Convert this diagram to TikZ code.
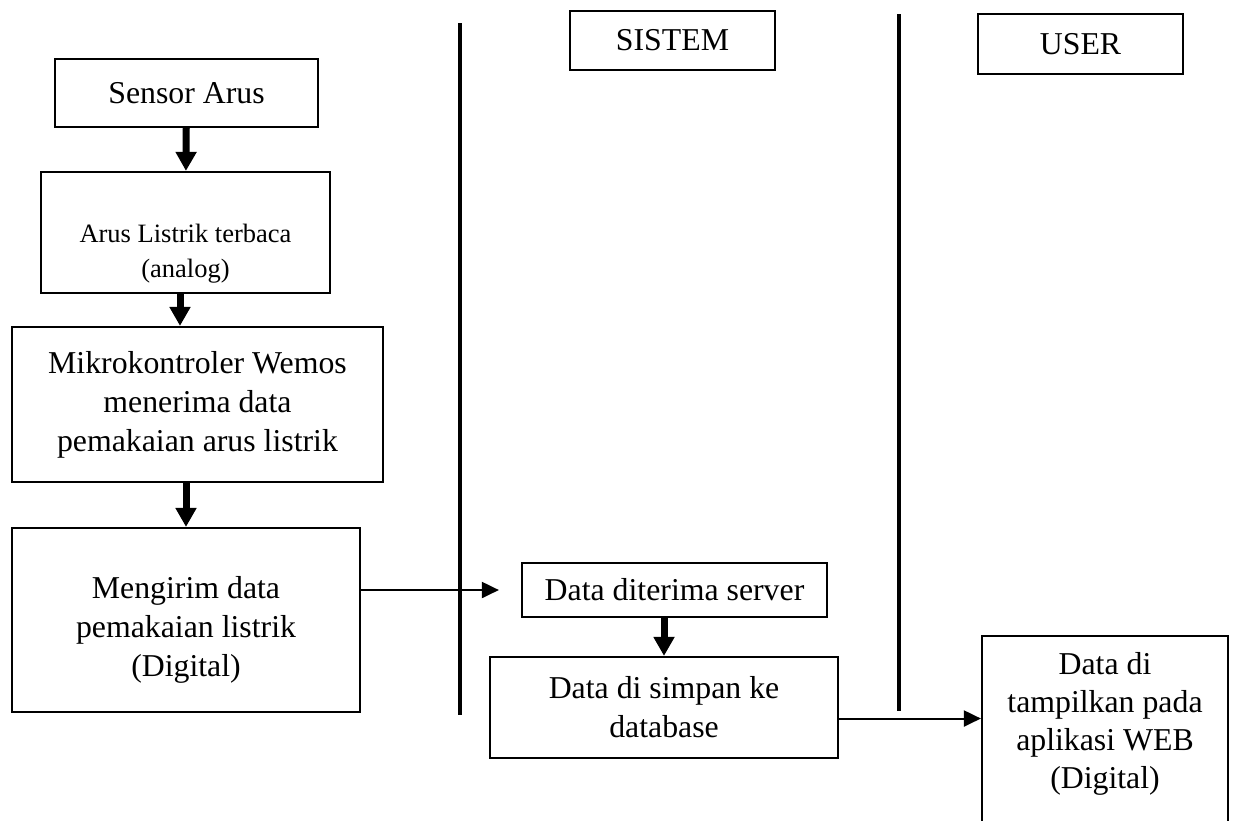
\documentclass[tikz,border=0pt]{standalone}
\usepackage{fontspec}
\setmainfont{Liberation Serif}
\usetikzlibrary{arrows.meta}

\begin{document}
\begin{tikzpicture}[x=0.5pt, y=-0.5pt,
    box/.style={draw, line width=1.1pt, align=center, inner sep=2pt,
                font=\fontsize{15.9}{19.5}\selectfont},
    bigarrow/.style={line width=3.5pt, -{Triangle[length=9.5pt,width=10pt]}},
    thinarrow/.style={line width=1pt, -{Triangle[length=8.5pt,width=8pt]}},
    lane/.style={line width=2pt}]
    % Page
    \clip (0,0) rectangle (1234,820);

    % Lanes
    \draw[lane] (460,23) -- (460,715);
    \draw[lane] (899,14) -- (899,711);
    \node[box, minimum width=102.5pt, minimum height=29.5pt] (sistem) at (672.5,40.5) {SISTEM};
    \node[box, minimum width=102.5pt, minimum height=30pt] (user) at (1080.5,44) {USER};

    % Sensor side
    \node[box, minimum width=144.5pt, minimum height=60.5pt, text height=48pt,
          font=\fontsize{13.25}{17.5}\selectfont] (arus) at (185.5,232.5)
          {Arus Listrik terbaca\\(analog)};
    \node[box, minimum width=131.5pt, minimum height=34pt] (sensor) at (186.5,93) {Sensor Arus};
    \node[box, minimum width=185.5pt, minimum height=77.5pt] (mikro) at (197.5,404.5)
          {Mikrokontroler Wemos\\menerima data\\pemakaian arus listrik};
    \node[box, minimum width=174pt, minimum height=92pt, text height=59.8pt] (kirim) at (186,620)
          {Mengirim data\\pemakaian listrik\\(Digital)};

    % Server side
    \node[box, minimum width=152.5pt, minimum height=27pt] (terima) at (674.5,590) {Data diterima server};
    \node[box, minimum width=174pt, minimum height=50.5pt] (simpan) at (664,707.5)
          {Data di simpan ke\\database};

    % User side
    \node[box, minimum width=123pt, minimum height=94pt, text depth=9.5pt,
          font=\fontsize{15.9}{19}\selectfont] (web) at (1105,730)
          {Data di\\tampilkan pada\\aplikasi WEB\\(Digital)};

    % Arrows
    \draw[bigarrow] (sensor) -- (arus);
    \draw[bigarrow] ([xshift=-2.75pt]arus.south) -- ([xshift=-2.75pt]arus.south |- mikro.north);
    \draw[bigarrow] (kirim.north |- mikro.south) -- (kirim.north);
    \draw[bigarrow] (simpan.north |- terima.south) -- (simpan.north);
    \draw[thinarrow] (kirim.east |- terima.west) -- ([xshift=-11pt]terima.west);
    \draw[thinarrow] ([yshift=-5.5pt]simpan.east) -- ([yshift=-5.5pt]simpan.east -| web.west);
\end{tikzpicture}
\end{document}
